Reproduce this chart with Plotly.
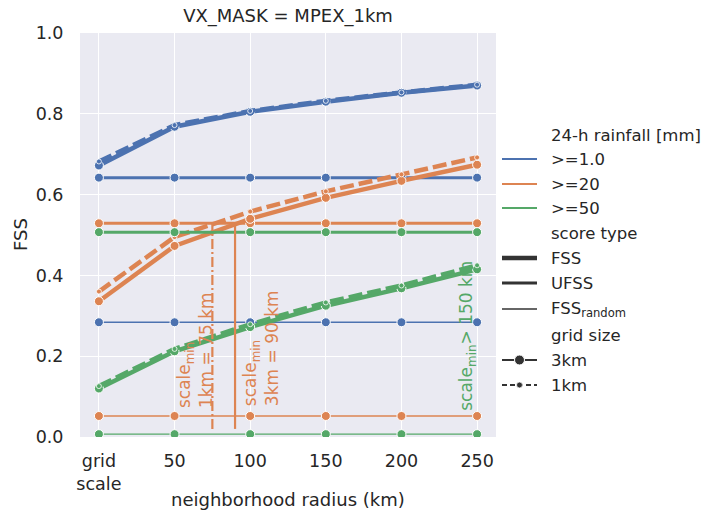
import plotly.graph_objects as go

# ---- data -------------------------------------------------------------
radius_km = [0, 50, 100, 150, 200, 250]
radius_ticktext = ["grid<br>scale", "50", "100", "150", "200", "250"]

thresholds = [">=1.0", ">=20", ">=50"]
threshold_colors = ["#4C72B0", "#DD8452", "#55A868"]

# FSS, 3 km grid
fss_3km_ge1 = [0.672, 0.768, 0.805, 0.830, 0.852, 0.870]
fss_3km_ge20 = [0.336, 0.473, 0.540, 0.592, 0.634, 0.674]
fss_3km_ge50 = [0.120, 0.212, 0.272, 0.325, 0.368, 0.415]

# FSS, 1 km grid
fss_1km_ge1 = [0.682, 0.772, 0.807, 0.832, 0.853, 0.872]
fss_1km_ge20 = [0.360, 0.495, 0.558, 0.608, 0.650, 0.692]
fss_1km_ge50 = [0.126, 0.218, 0.279, 0.333, 0.375, 0.425]

# uniform (target) skill and random skill per threshold
ufss_values = [0.642, 0.529, 0.507]
fss_random_values = [0.284, 0.052, 0.007]

# smallest skilful scale for >=20 mm
scale_min_1km = 75
scale_min_3km = 90
scale_line_bottom = 0.02

# ---- geometry ---------------------------------------------------------
W, H = 701, 514
ML, MR, MT, MB = 80, 1, 33, 77
PW = W - ML - MR
PH = H - MT - MB
MAIN_RIGHT = 496
LEG_LEFT = 500

TEXT = "#262626"
FONT = "DejaVu Sans"
BG = "#EAEAF2"

fig = go.Figure()

fss_3km = [fss_3km_ge1, fss_3km_ge20, fss_3km_ge50]
fss_1km = [fss_1km_ge1, fss_1km_ge20, fss_1km_ge50]


def marker(color, size):
    return dict(symbol="circle", size=size, color=color,
                line=dict(color="white", width=1 if size > 6 else 0.8))


for name, color, f3, f1, uf, rnd in zip(thresholds, threshold_colors, fss_3km,
                                        fss_1km, ufss_values, fss_random_values):
    # random-forecast skill (thin line)
    fig.add_trace(go.Scatter(
        x=radius_km, y=[rnd] * len(radius_km), mode="lines+markers",
        line=dict(color=color, width=1.3), marker=marker(color, 9),
        name=f"{name} FSS_random", showlegend=False))
    # uniform skill (medium line)
    fig.add_trace(go.Scatter(
        x=radius_km, y=[uf] * len(radius_km), mode="lines+markers",
        line=dict(color=color, width=3), marker=marker(color, 9),
        name=f"{name} UFSS", showlegend=False))
    # FSS 3 km (thick solid)
    fig.add_trace(go.Scatter(
        x=radius_km, y=f3, mode="lines+markers",
        line=dict(color=color, width=4.5), marker=marker(color, 9),
        name=f"{name} FSS 3km", showlegend=False))
    # FSS 1 km (thick dashed)
    fig.add_trace(go.Scatter(
        x=radius_km, y=f1, mode="lines+markers",
        line=dict(color=color, width=4.5, dash="14px,5px"), marker=marker(color, 5),
        name=f"{name} FSS 1km", showlegend=False))

# scale_min markers for >=20 mm
orange = threshold_colors[1]
ufss_20 = ufss_values[1]
fig.add_trace(go.Scatter(
    x=[scale_min_1km, scale_min_1km], y=[scale_line_bottom, ufss_20], mode="lines",
    line=dict(color=orange, width=2.2, dash="10px,3px,2px,3px"), showlegend=False))
fig.add_trace(go.Scatter(
    x=[scale_min_3km, scale_min_3km], y=[scale_line_bottom, ufss_20], mode="lines",
    line=dict(color=orange, width=2.2), showlegend=False))

ann = []
ann.append(dict(x=63.6, y=0.067, xref="x", yref="y", xanchor="center", yanchor="bottom",
                text=f"scale<sub>min</sub><br>1km = {scale_min_1km} km", textangle=-90,
                align="left", showarrow=False, font=dict(family=FONT, size=17, color=orange)))
ann.append(dict(x=107.3, y=0.072, xref="x", yref="y", xanchor="center", yanchor="bottom",
                text=f"scale<sub>min</sub><br>3km = {scale_min_3km} km", textangle=-90,
                align="left", showarrow=False, font=dict(family=FONT, size=17, color=orange)))
ann.append(dict(x=244, y=0.06, xref="x", yref="y", xanchor="center", yanchor="bottom",
                text="scale<sub>min</sub>> 150 km", textangle=-90,
                align="left", showarrow=False,
                font=dict(family=FONT, size=17, color=threshold_colors[2])))

# ---- legend drawn on a pixel-scaled helper axis -----------------------
leg_line_x = [502, 537]
leg_text_x = 549
leg_rows = [
    ("24-h rainfall [mm]", 135, None),
    (thresholds[0], 159, dict(color=threshold_colors[0], width=2)),
    (thresholds[1], 184, dict(color=threshold_colors[1], width=2)),
    (thresholds[2], 208, dict(color=threshold_colors[2], width=2)),
    ("score type", 233, None),
    ("FSS", 258, dict(color="#333333", width=4.5)),
    ("UFSS", 283, dict(color="#333333", width=3)),
    ("FSS<sub>random</sub>", 309, dict(color="#333333", width=1.3)),
    ("grid size", 335, None),
    ("3km", 360, dict(color="#333333", width=2)),
    ("1km", 385, dict(color="#333333", width=2, dash="5px,3px")),
]
for label, yy, line in leg_rows:
    if line is not None:
        fig.add_trace(go.Scatter(x=leg_line_x, y=[yy, yy], mode="lines", line=line,
                                 xaxis="x2", yaxis="y2", showlegend=False, hoverinfo="skip"))
    ann.append(dict(x=leg_text_x, y=yy, xref="x2", yref="y2", xanchor="left",
                    yanchor="middle", text=label, showarrow=False,
                    font=dict(family=FONT, size=16.5, color=TEXT)))
fig.add_trace(go.Scatter(x=[519.5], y=[360], mode="markers", xaxis="x2", yaxis="y2",
                         marker=dict(size=10, color="#333333", line=dict(color="white", width=1)),
                         showlegend=False, hoverinfo="skip"))
fig.add_trace(go.Scatter(x=[519.5], y=[385], mode="markers", xaxis="x2", yaxis="y2",
                         marker=dict(size=6, color="#333333", line=dict(color="white", width=0.8)),
                         showlegend=False, hoverinfo="skip"))

# axis titles
ann.append(dict(x=(288 - ML) / PW, y=(MT + PH - 500) / PH, xref="paper", yref="paper",
                xanchor="center", yanchor="middle",
                text="neighborhood radius (km)", showarrow=False,
                font=dict(family=FONT, size=18, color=TEXT)))
ann.append(dict(x=(20 - ML) / PW, y=0.5, xref="paper", yref="paper", text="FSS",
                xanchor="center", yanchor="middle",
                textangle=-90, showarrow=False, font=dict(family=FONT, size=18, color=TEXT)))

fig.update_layout(
    width=W, height=H,
    margin=dict(l=ML, r=MR, t=MT, b=MB),
    paper_bgcolor="white", plot_bgcolor="white",
    title=dict(text="VX_MASK = MPEX_1km", x=288 / W, y=1 - 16 / H, xanchor="center",
               yanchor="middle", font=dict(family=FONT, size=18, color=TEXT)),
    font=dict(family=FONT, size=18, color=TEXT),
    xaxis=dict(domain=[0, (MAIN_RIGHT - ML) / PW], range=[-12.5, 262.5],
               tickvals=radius_km, ticktext=radius_ticktext, showgrid=True,
               gridcolor="white", gridwidth=1.3, zeroline=False, showline=False,
               ticks="outside", ticklen=8, tickcolor="rgba(0,0,0,0)",
               tickfont=dict(family=FONT, size=17.5, color=TEXT)),
    yaxis=dict(range=[0, 1], tickvals=[0, 0.2, 0.4, 0.6, 0.8, 1.0], tickformat=".1f",
               showgrid=True, gridcolor="white", gridwidth=1.3, zeroline=False,
               showline=False, ticks="outside", ticklen=12, tickcolor="rgba(0,0,0,0)",
               tickfont=dict(family=FONT, size=17.5, color=TEXT)),
    xaxis2=dict(domain=[(LEG_LEFT - ML) / PW, 1], range=[LEG_LEFT, W - MR], visible=False,
                fixedrange=True),
    yaxis2=dict(domain=[0, 1], range=[MT + PH, MT], anchor="x2", visible=False,
                fixedrange=True),
    annotations=ann,
    shapes=[dict(type="rect", xref="paper", yref="paper", x0=0, x1=(MAIN_RIGHT - ML) / PW,
                 y0=0, y1=1, fillcolor=BG, line=dict(width=0), layer="below")],
)

fig.write_html("out.html")
